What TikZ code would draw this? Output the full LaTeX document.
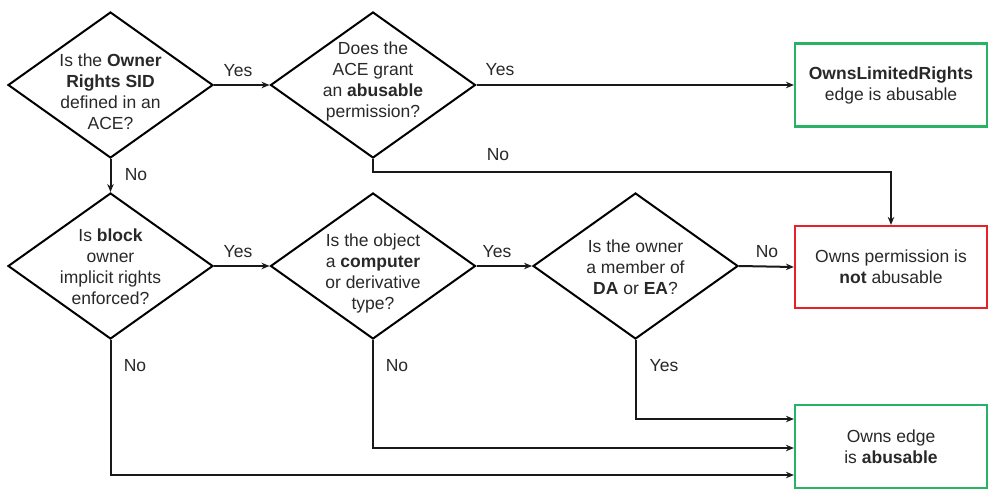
\documentclass[tikz,border=0pt]{standalone}
\usepackage{fontspec}
\setmainfont{Liberation Sans}
\usetikzlibrary{shapes.geometric,arrows.meta}
\definecolor{txt}{RGB}{40,40,40}
\definecolor{okgreen}{RGB}{40,178,100}
\definecolor{badred}{RGB}{232,32,40}
\begin{document}
\begin{tikzpicture}[x=1pt,y=-1pt,
  font=\fontsize{17.5}{21}\selectfont,
  every node/.style={text=txt},
  dia/.style={draw=black,line width=2pt,shape=diamond,minimum width=205pt,minimum height=146pt,inner sep=0pt},
  dtext/.style={align=center,inner sep=0pt},
  okbox/.style={draw=okgreen,line width=2.2pt,minimum width=192pt,minimum height=83pt,inner sep=0pt,align=center},
  badbox/.style={draw=badred,line width=2.2pt,minimum width=192pt,minimum height=82pt,inner sep=0pt,align=center},
  conn/.style={draw=black!90,line width=2pt,-{Stealth[length=8pt,width=6.5pt]}},
  lbl/.style={inner sep=0pt}]
\useasboundingbox (0,0) rectangle (1000,503);

% decisions
\node[dia] (d1) at (110.5,85) {};
\node[dtext] (t1) at (110.5,91.5) {Is the \textbf{Owner}\\\textbf{Rights SID}\\defined in an\\ACE?};
\node[dia] (d2) at (373,85) {};
\node[dtext] (t2) at (373,81) {Does the\\ACE grant\\an \textbf{abusable}\\permission?};
\node[dia] (d3) at (110.5,266) {};
\node[dtext] (t3) at (110.5,267) {Is \textbf{block}\\owner\\implicit rights\\enforced?};
\node[dia] (d4) at (373,266) {};
\node[dtext] (t4) at (373,273) {Is the object\\a \textbf{computer}\\or derivative\\type?};
\node[dia] (d5) at (635.5,266) {};
\node[dtext] (t5) at (635.5,267) {Is the owner\\a member of\\\textbf{DA} or \textbf{EA}?};

% outcomes
\node[okbox] (b1) at (891,85) {\textbf{OwnsLimitedRights}\\edge is abusable};
\node[badbox] (b2) at (891,267) {Owns permission is\\\textbf{not} abusable};
\node[okbox] (b3) at (891,446.5) {Owns edge\\is \textbf{abusable}};

% connectors
\draw[conn] (d1.east) -- (d2.west);
\draw[conn] (d2.east) -- (b1.west);
\draw[conn] (d2.south) |- (500,172) -| (b2.north);
\draw[conn] (d1.south) -- (d3.north);
\draw[conn] (d3.east) -- (d4.west);
\draw[conn] (d4.east) -- (d5.west);
\draw[conn] (d5.east) -- (b2.west);
\draw[conn] (d5.south) |- (b3.west |- 0,419);
\draw[conn] (d4.south) |- (b3.west |- 0,448);
\draw[conn] (d3.south) |- (b3.west |- 0,475);

% labels
\node[lbl] (l1) at (238,71) {Yes};
\node[lbl] (l2) at (500,70) {Yes};
\node[lbl] (l3) at (498,155) {No};
\node[lbl] (l4) at (136,175) {No};
\node[lbl] (l5) at (238,252) {Yes};
\node[lbl] (l6) at (497,252) {Yes};
\node[lbl] (l7) at (767,252) {No};
\node[lbl] (l8) at (664,366) {Yes};
\node[lbl] (l9) at (397,366) {No};
\node[lbl] (l10) at (135,366) {No};
\end{tikzpicture}
\end{document}
